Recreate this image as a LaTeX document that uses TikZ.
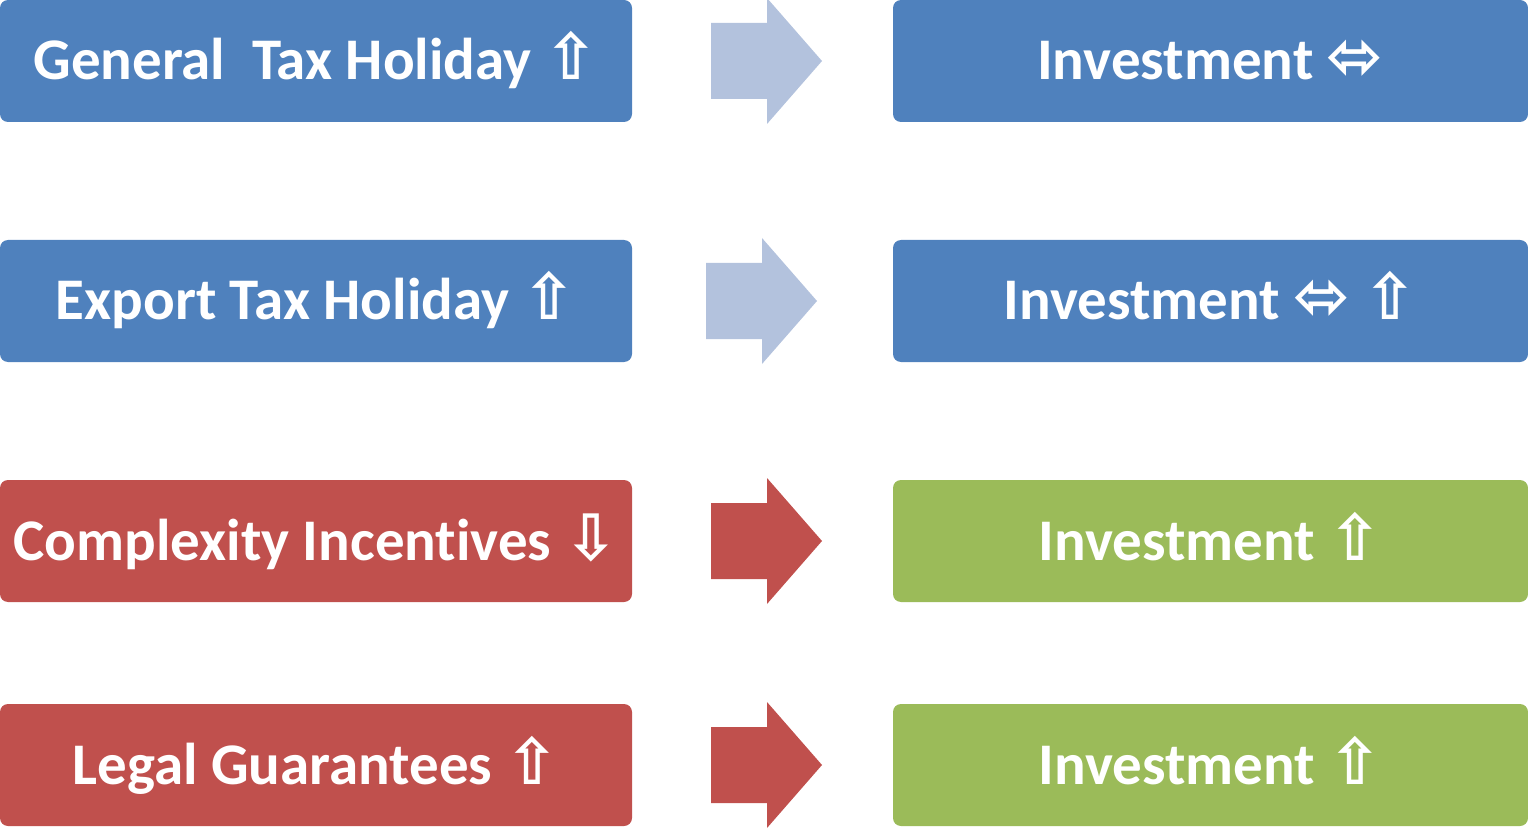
\documentclass[tikz,border=0pt]{standalone}
\usepackage{fontspec}
\setmainfont[Ligatures=NoCommon]{Carlito}
\newfontfamily\symfont{DejaVu Sans}
\definecolor{boxblue}{HTML}{4F81BD}
\definecolor{boxred}{HTML}{C0504D}
\definecolor{boxgreen}{HTML}{9BBB59}
\definecolor{arrowpale}{HTML}{B3C2DD}
\def\blockarrow[#1](#2,#3){\fill[#1] (#2,#3-38) -- (#2+56,#3-38) -- (#2+56,#3-63) -- (#2+111,#3) -- (#2+56,#3+63) -- (#2+56,#3+38) -- (#2,#3+38) -- cycle;}
\def\up{{\symfont\fontsize{32}{35}\selectfont ⇧}}
\def\down{{\symfont\fontsize{32}{35}\selectfont ⇩}}
\def\same{{\symfont\fontsize{34}{35}\selectfont ⬄}}

\begin{document}
\begin{tikzpicture}[x=0.5pt,y=-0.5pt,
		box/.style={rectangle,rounded corners=4pt,inner sep=0pt,text=white,font=\fontsize{29.5}{35}\bfseries\selectfont,text height=19pt,text depth=0pt,minimum height=61pt},
		causebox/.style={box,minimum width=316pt},
		effectbox/.style={box,minimum width=317.5pt}]
				\useasboundingbox (0,0) rectangle (1528,829);
				
				\node[causebox,fill=boxblue] (general) at (316,61) {General\ \ Tax Holiday \up};
				\node[causebox,fill=boxblue] (export) at (316,301) {Export Tax Holiday \up};
				\node[causebox,fill=boxred] (complexity) at (316,541) {Complexity Incentives \down};
				\node[causebox,fill=boxred] (legal) at (316,765) {Legal Guarantees \up};
				
				\node[effectbox,fill=boxblue] (inv1) at (1210.5,61) {Investment \same};
				\node[effectbox,fill=boxblue] (inv2) at (1210.5,301) {Investment \same\ \up};
				\node[effectbox,fill=boxgreen] (inv3) at (1210.5,541) {Investment \up};
				\node[effectbox,fill=boxgreen] (inv4) at (1210.5,765) {Investment \up};
				
				\blockarrow[arrowpale](711,61)
				\blockarrow[arrowpale](706,301)
				\blockarrow[boxred](711,541)
				\blockarrow[boxred](711,765)
			\end{tikzpicture}
\end{document}
